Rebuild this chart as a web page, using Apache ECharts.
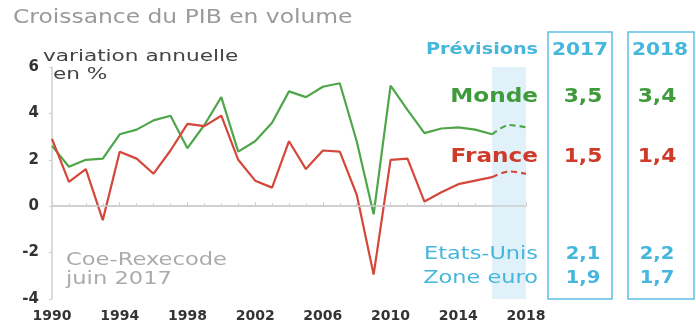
<!DOCTYPE html>
<html><head><meta charset="utf-8">
<script src="https://cdn.jsdelivr.net/npm/echarts@6/dist/echarts.min.js"></script>
<style>html,body{margin:0;padding:0;background:#fff}#c{width:696px;height:332px}</style>
</head><body><div id="c"></div>
<script>
const years = [1990,1991,1992,1993,1994,1995,1996,1997,1998,1999,2000,2001,2002,2003,2004,2005,2006,2007,2008,2009,2010,2011,2012,2013,2014,2015,2016];
const monde = [2.6,1.7,2.0,2.05,3.1,3.3,3.7,3.9,2.5,3.5,4.7,2.35,2.8,3.6,4.95,4.7,5.15,5.3,2.8,-0.35,5.2,4.15,3.15,3.35,3.4,3.3,3.1];
const france = [2.9,1.05,1.6,-0.6,2.35,2.05,1.4,2.4,3.55,3.45,3.9,2.0,1.1,0.8,2.8,1.6,2.4,2.35,0.5,-2.95,2.0,2.05,0.2,0.6,0.95,1.1,1.25];
const forecastYears = [2016,2017,2018];
const mondeForecast = [3.1,3.5,3.4];
const franceForecast = [1.25,1.5,1.4];
const yTicks = [-4,-2,0,2,4,6];
const xTicks = [1990,1994,1998,2002,2006,2010,2014,2018];
const tableRows = [
  {name:'Monde', v2017:'3,5', v2018:'3,4', kind:'major', color:'#3f9a3c'},
  {name:'France', v2017:'1,5', v2018:'1,4', kind:'major', color:'#cf3b2b'},
  {name:'Etats-Unis', v2017:'2,1', v2018:'2,2', kind:'minor', color:'#45b6dc'},
  {name:'Zone euro', v2017:'1,9', v2018:'1,7', kind:'minor', color:'#45b6dc'}
];

const GREEN = '#4fa64a', RED = '#d4473a', BLUE = '#45b6dc';
const chart = echarts.init(document.getElementById('c'), null, {renderer:'canvas'});
const font = 'DejaVu Sans';
const rowY = [97, 157, 255, 279];
function txt(x, y, text, size, weight, fill, align, sx){
  return {type:'text', x:x, y:y, scaleX:sx, z:100,
    style:{text:text, font:(weight?'bold ':'')+size+'px "'+font+'"', fill:fill, textAlign:align, textVerticalAlign:'middle'}};
}
const graphics = [
  txt(13, 18, 'Croissance du PIB en volume', 20, false, '#9a9a9a', 'left', 1.17),
  txt(43, 57, 'variation annuelle', 16, false, '#444', 'left', 1.35),
  txt(53, 75, 'en %', 16, false, '#444', 'left', 1.35),
  txt(66, 261, 'Coe-Rexecode', 17, false, '#ababab', 'left', 1.33),
  txt(66, 280, 'juin 2017', 17, false, '#ababab', 'left', 1.33),
  {type:'rect', z:90, shape:{x:548, y:32, width:64, height:267}, style:{fill:'none', stroke:'#5cc0e3', lineWidth:1.5}},
  {type:'rect', z:90, shape:{x:628, y:32, width:66, height:267}, style:{fill:'none', stroke:'#5cc0e3', lineWidth:1.5}},
  txt(538, 50, 'Prévisions', 16, true, BLUE, 'right', 1.2),
  txt(580, 50, '2017', 18, true, BLUE, 'center', 1.12),
  txt(660, 50, '2018', 18, true, BLUE, 'center', 1.12)
];
tableRows.forEach((r,i)=>{
  const major = r.kind==='major';
  graphics.push(txt(538, rowY[i], r.name, major?19:17, major, r.color, 'right', major?1.22:1.32));
  graphics.push(txt(583, rowY[i], r.v2017, major?19:17, true, r.color, 'center', 1.15));
  graphics.push(txt(657, rowY[i], r.v2018, major?19:17, true, r.color, 'center', 1.15));
});

chart.setOption({
  animation:false,
  grid:{left:52, right:170, top:67, bottom:33, containLabel:false},
  xAxis:{type:'value', min:1990, max:2018, interval:4,
    axisLine:{show:true, lineStyle:{color:'#cfcfcf', width:1.5}},
    axisTick:{show:true, inside:true, length:4, lineStyle:{color:'#cfcfcf'}},
    minorTick:{show:true, splitNumber:4, length:3, lineStyle:{color:'#cfcfcf'}},
    axisLabel:{margin:10, color:'#333', fontFamily:font, fontWeight:'bold', fontSize:14,
      formatter:v=>xTicks.includes(v)?String(v):''},
    splitLine:{show:false}},
  yAxis:{type:'value', min:-4, max:6, interval:2,
    axisLine:{show:true, onZero:false, lineStyle:{color:'#cfcfcf', width:1.5}},
    axisTick:{show:true, length:3, lineStyle:{color:'#cfcfcf'}},
    axisLabel:{margin:13, color:'#333', fontFamily:font, fontWeight:'bold', fontSize:15,
      formatter:v=>yTicks.includes(v)?String(v):''},
    splitLine:{show:false}},
  graphic:graphics,
  series:[
    {type:'line', data:[], z:1, silent:true,
      markArea:{silent:true, itemStyle:{color:'#e0f1f9'}, data:[[{xAxis:2016},{xAxis:2018}]]}},
    {type:'line', data:[], z:2, silent:true,
      markLine:{silent:true, symbol:'none', label:{show:false}, lineStyle:{color:'#cccccc', width:1.5, type:'solid'}, data:[{yAxis:0}]}},
    {type:'line', data:years.map((y,i)=>[y,monde[i]]), symbol:'none', lineStyle:{color:GREEN, width:2.2}, z:3},
    {type:'line', data:years.map((y,i)=>[y,france[i]]), symbol:'none', lineStyle:{color:RED, width:2.2}, z:3},
    {type:'line', data:forecastYears.map((y,i)=>[y,mondeForecast[i]]), symbol:'none', smooth:0.3, lineStyle:{color:GREEN, width:2.2, type:[6,4]}, z:3},
    {type:'line', data:forecastYears.map((y,i)=>[y,franceForecast[i]]), symbol:'none', smooth:0.3, lineStyle:{color:RED, width:2.2, type:[6,4]}, z:3}
  ]
});
</script></body></html>
